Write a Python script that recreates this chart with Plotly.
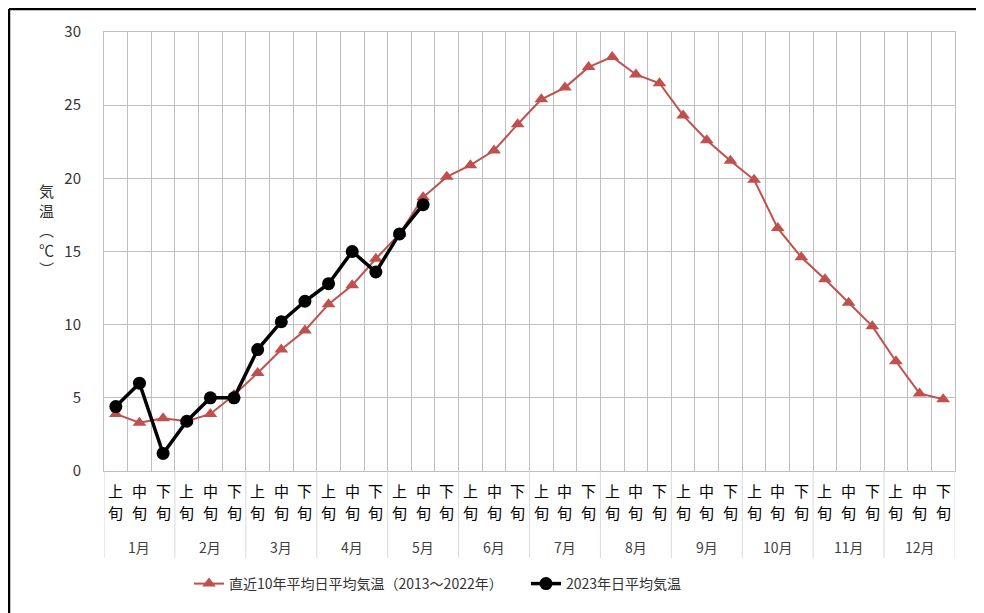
import plotly.graph_objects as go

months = ["1月", "2月", "3月", "4月", "5月", "6月", "7月", "8月", "9月", "10月", "11月", "12月"]
periods = ["上旬", "中旬", "下旬"]
categories = [m + p for m in months for p in periods]

avg_10yr = [3.9, 3.3, 3.6, 3.4, 3.9, 5.2,
            6.7, 8.3, 9.6, 11.4, 12.7, 14.5,
            16.2, 18.7, 20.1, 20.9, 21.9, 23.7,
            25.4, 26.2, 27.6, 28.3, 27.1, 26.5,
            24.3, 22.6, 21.2, 19.9, 16.6, 14.6,
            13.1, 11.5, 9.9, 7.5, 5.3, 4.9]
y2023 = [4.4, 6.0, 1.2, 3.4, 5.0, 5.0,
         8.3, 10.2, 11.6, 12.8, 15.0, 13.6,
         16.2, 18.2]

name_avg = "直近10年平均日平均気温（2013～2022年）"
name_2023 = "2023年日平均気温"
y_title = "気<br>温<br>︵<br>℃<br>︶"

FONT = "Noto Sans CJK JP"
OFF = 8  # page body margin
W, H = 984 - OFF, 613 - OFF
PX0, PX1, PY0, PY1 = 104, 955, 32, 471  # plot area in window pixels
L, R, T, B = PX0 - OFF, W - (PX1 - OFF), PY0 - OFF, H - (PY1 - OFF)
pw, ph = PX1 - PX0, PY1 - PY0


def px(x):
    return (x - PX0) / pw


def py(y):
    return (PY1 - y) / ph


fig = go.Figure()
fig.add_trace(go.Scatter(
    x=categories, y=avg_10yr, name=name_avg, mode="lines+markers",
    line=dict(color="#C0504D", width=2),
    marker=dict(symbol="triangle-up", size=12, color="#C0504D"),
    legend="legend",
))
fig.add_trace(go.Scatter(
    x=categories[:len(y2023)], y=y2023, name=name_2023, mode="lines+markers",
    line=dict(color="#000000", width=3.5),
    marker=dict(symbol="circle", size=13, color="#000000"),
    legend="legend2",
))

shapes = []
annotations = []

# period labels (two stacked characters per category)
for i, c in enumerate(categories):
    p = c[-2:]
    for ch, yy in zip(p, (490, 513)):
        annotations.append(dict(
            x=i, xref="x", y=py(yy), yref="paper", text=ch, showarrow=False,
            xanchor="center", yanchor="middle",
            font=dict(family=FONT, size=15, color="#000000"),
        ))

# month labels and dividers
for i, m in enumerate(months):
    annotations.append(dict(
        x=i * 3 + 1, xref="x", y=py(547), yref="paper",
        text=m, showarrow=False, font=dict(family=FONT, size=14, color="#404040"),
        xanchor="center", yanchor="middle",
    ))
for i in range(13):
    shapes.append(dict(
        type="line", xref="x", yref="paper", x0=i * 3 - 0.5, x1=i * 3 - 0.5,
        y0=0, y1=py(558), line=dict(color="#D9D9D9", width=1),
    ))

# outer frame (top and left edges)
shapes.append(dict(type="line", xref="paper", yref="paper",
                   x0=px(OFF + 1), x1=px(1000), y0=py(OFF + 1), y1=py(OFF + 1),
                   line=dict(color="black", width=2.5)))
shapes.append(dict(type="line", xref="paper", yref="paper",
                   x0=px(OFF + 1), x1=px(OFF + 1), y0=py(OFF + 1), y1=py(640),
                   line=dict(color="black", width=2.5)))

# vertical axis title
annotations.append(dict(
    x=px(46), xref="paper", y=py(229), yref="paper", text=y_title,
    showarrow=False, xanchor="center", yanchor="middle",
    font=dict(family=FONT, size=15, color="#333333"),
))

legend_common = dict(orientation="h", yanchor="middle", xanchor="left",
                     font=dict(family=FONT, size=14, color="#333333"),
                     bgcolor="rgba(0,0,0,0)", borderwidth=0)
fig.update_layout(
    width=W, height=H,
    margin=dict(l=L, r=R, t=T, b=B),
    plot_bgcolor="white", paper_bgcolor="white",
    font=dict(family=FONT, size=15, color="#333333"),
    showlegend=True,
    legend=dict(x=px(189), y=py(584), **legend_common),
    legend2=dict(x=px(526), y=py(584), **legend_common),
    shapes=shapes, annotations=annotations,
)
fig.update_xaxes(
    type="category", categoryorder="array", categoryarray=categories,
    tickson="boundaries", showgrid=True, gridcolor="#BFBFBF", gridwidth=1,
    ticks="", showticklabels=False, showline=True, linecolor="#BFBFBF", mirror=True,
    range=[-0.5, 35.5],
)
fig.update_yaxes(
    range=[0, 30], dtick=5, tick0=0, showgrid=True, gridcolor="#BFBFBF",
    gridwidth=1, zeroline=False, showline=True, linecolor="#BFBFBF", mirror=True,
    ticks="", ticklabelstandoff=19,
    tickfont=dict(family=FONT, size=15, color="#333333"),
)

fig.write_html("out.html")
